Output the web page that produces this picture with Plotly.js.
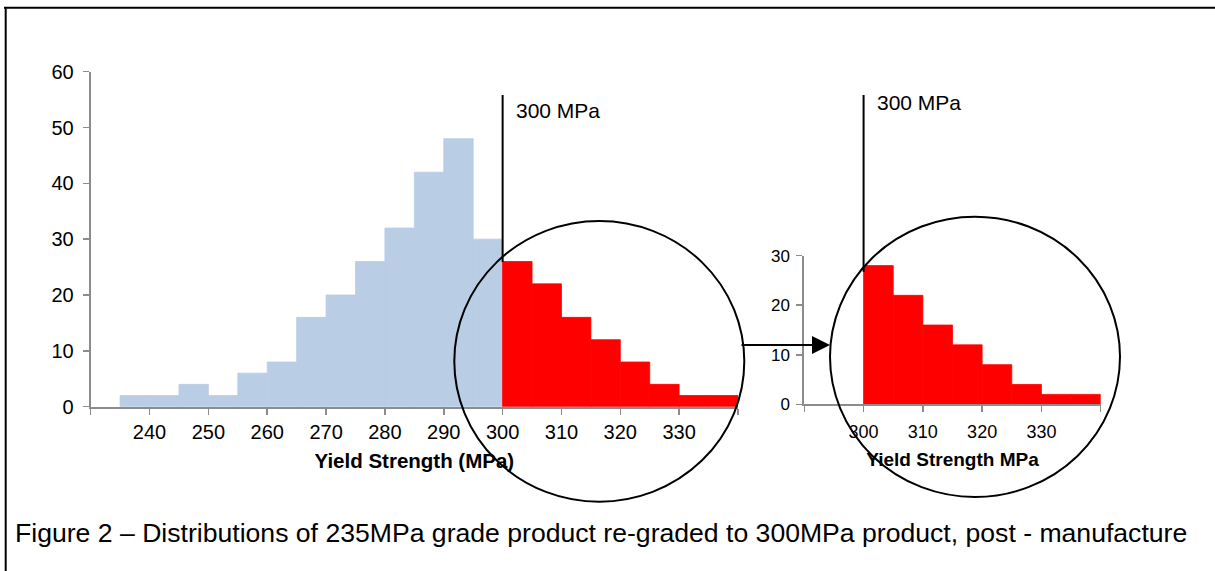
<!DOCTYPE html>
<html>
<head>
<meta charset="utf-8">
<script src="https://cdn.plot.ly/plotly-3.0.1.min.js"></script>
<style>html,body{margin:0;padding:0;background:#fff;overflow:hidden;}#chart{width:1215px;height:571px;}</style>
</head>
<body>
<div id="chart"></div>
<script>
// ---- data (bin starts, 5 MPa wide) ----
const belowStarts = [235, 240, 245, 250, 255, 260, 265, 270, 275, 280, 285, 290, 295];
const belowCounts = [2, 2, 4, 2, 6, 8, 16, 20, 26, 32, 42, 48, 30];
const aboveStarts = [300, 305, 310, 315, 320, 325, 330, 335];
const aboveCountsLeft = [26, 22, 16, 12, 8, 4, 2, 2];
const aboveCountsRight = [28, 22, 16, 12, 8, 4, 2, 2];
const binWidth = 5;
const threshold = 300;

const leftTickVals = [230, 240, 250, 260, 270, 280, 290, 300, 310, 320, 330, 340];
const leftTickText = ['', '240', '250', '260', '270', '280', '290', '300', '310', '320', '330', ''];
const rightTickVals = [290, 300, 310, 320, 330, 340];
const rightTickText = ['', '300', '310', '320', '330', ''];

const W = 1215, H = 571;
const px = v => v / W;
const py = v => (H - v) / H;

const FONT = 'Liberation Sans, Arial, sans-serif';
const AXIS_GREY = '#8c8c8c';
const BLUE = '#b9cde5';
const RED = '#ff0000';

const traces = [
  {type: 'bar', x: belowStarts, y: belowCounts, width: binWidth, offset: 0,
   marker: {color: BLUE, line: {width: 0.8, color: BLUE}}, xaxis: 'x', yaxis: 'y', hoverinfo: 'x+y'},
  {type: 'bar', x: aboveStarts, y: aboveCountsLeft, width: binWidth, offset: 0,
   marker: {color: RED, line: {width: 0.8, color: RED}}, xaxis: 'x', yaxis: 'y', hoverinfo: 'x+y'},
  {type: 'bar', x: aboveStarts, y: aboveCountsRight, width: binWidth, offset: 0,
   marker: {color: RED, line: {width: 0.8, color: RED}}, xaxis: 'x2', yaxis: 'y2', hoverinfo: 'x+y'}
];

const axCommon = {
  showgrid: false, zeroline: false, showline: true, linecolor: AXIS_GREY, linewidth: 2,
  ticks: 'outside', tickcolor: AXIS_GREY, tickwidth: 1.5, ticklen: 6,
  fixedrange: true
};

const layout = {
  width: W, height: H,
  margin: {l: 0, r: 0, t: 0, b: 0},
  paper_bgcolor: '#fff', plot_bgcolor: 'rgba(0,0,0,0)',
  showlegend: false,
  barmode: 'overlay',
  font: {family: FONT, color: '#000'},
  xaxis: Object.assign({}, axCommon, {
    domain: [px(90.7), px(738)], range: [230, 340], anchor: 'y',
    tickmode: 'array', tickvals: leftTickVals, ticktext: leftTickText,
    tickfont: {size: 20, family: FONT, color: '#000'},
    title: {text: 'Yield Strength (MPa)', font: {size: 20.5, family: FONT, color: '#000', weight: 'bold'}, standoff: 12}
  }),
  yaxis: Object.assign({}, axCommon, {
    domain: [py(406.7), py(71.7)], range: [0, 60], anchor: 'x',
    tickmode: 'linear', tick0: 0, dtick: 10, ticklabelstandoff: 5,
    tickfont: {size: 20, family: FONT, color: '#000'}
  }),
  xaxis2: Object.assign({}, axCommon, {
    domain: [px(804.3), px(1100.7)], range: [290, 340], anchor: 'y2',
    tickmode: 'array', tickvals: rightTickVals, ticktext: rightTickText, ticklabelstandoff: 4,
    tickfont: {size: 18, family: FONT, color: '#000'},
    title: {text: 'Yield Strength MPa', font: {size: 19, family: FONT, color: '#000', weight: 'bold'}, standoff: 12}
  }),
  yaxis2: Object.assign({}, axCommon, {
    domain: [py(404.3), py(255.7)], range: [0, 30], anchor: 'x2',
    tickmode: 'linear', tick0: 0, dtick: 10, ticklabelstandoff: 3,
    tickfont: {size: 17, family: FONT, color: '#000'}
  }),
  shapes: [
    // frame (top and left edges)
    {type: 'line', xref: 'paper', yref: 'paper', x0: px(4), x1: 1, y0: py(7.7), y1: py(7.7), line: {color: '#000', width: 2}},
    {type: 'line', xref: 'paper', yref: 'paper', x0: px(5.7), x1: px(5.7), y0: py(7), y1: 0, line: {color: '#000', width: 2}},
    // threshold markers
    {type: 'line', xref: 'x', yref: 'paper', x0: threshold, x1: threshold, y0: py(262), y1: py(95), line: {color: '#000', width: 2}},
    {type: 'line', xref: 'x2', yref: 'paper', x0: threshold, x1: threshold, y0: py(271.7), y1: py(95), line: {color: '#000', width: 2}},
    // highlight circles
    {type: 'circle', xref: 'paper', yref: 'paper', x0: px(454.3), x1: px(744.3), y0: py(501.7), y1: py(221), line: {color: '#000', width: 2}},
    {type: 'circle', xref: 'paper', yref: 'paper', x0: px(830), x1: px(1120), y0: py(497), y1: py(216.7), line: {color: '#000', width: 2}}
  ],
  annotations: [
    {xref: 'x', yref: 'paper', x: threshold, y: py(110), xanchor: 'left', yanchor: 'middle', xshift: 11,
     text: '300 MPa', showarrow: false, font: {size: 21, family: FONT, color: '#000'}},
    {xref: 'x2', yref: 'paper', x: threshold, y: py(102.7), xanchor: 'left', yanchor: 'middle', xshift: 11,
     text: '300 MPa', showarrow: false, font: {size: 21, family: FONT, color: '#000'}},
    // arrow between the two circles
    {xref: 'paper', yref: 'paper', x: px(830), y: py(345), ax: -90, ay: 0, text: '',
     showarrow: true, arrowhead: 2, arrowsize: 1.8, arrowwidth: 2, arrowcolor: '#000'},
    // figure caption
    {xref: 'paper', yref: 'paper', x: px(13), y: py(533), xanchor: 'left', yanchor: 'middle', showarrow: false,
     text: 'Figure 2 \u2013 Distributions of 235MPa grade product re-graded to 300MPa product, post - manufacture',
     font: {size: 26.6, family: FONT, color: '#000'}}
  ]
};

Plotly.newPlot('chart', traces, layout, {displayModeBar: false, staticPlot: true});
</script>
</body>
</html>
